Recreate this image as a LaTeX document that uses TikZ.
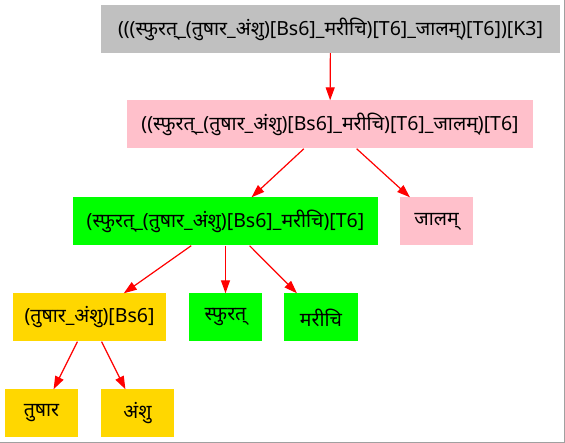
\documentclass[tikz,border=0pt]{standalone}
\usepackage{fontspec}
\newfontfamily\deva[Script=Devanagari]{Noto Sans}
\usetikzlibrary{arrows.meta}
\definecolor{cgray}{HTML}{C0C0C0}
\definecolor{cpink}{HTML}{FFC0CB}
\definecolor{cgreen}{HTML}{00FF00}
\definecolor{cgold}{HTML}{FFD700}
\definecolor{cborder}{HTML}{A0A0A0}
\begin{document}
\begin{tikzpicture}[x=1pt,y=-1pt,
  box/.style={rectangle,inner sep=0pt,minimum height=48pt,font=\deva\fontsize{19.5}{22}\selectfont,text=black},
  edge/.style={red,line width=1.2pt,-{Triangle[length=13pt,width=9pt]}}]
\useasboundingbox (0,0) rectangle (565,443);
\fill[white] (0,0) rectangle (565,443);
\draw[cborder,line width=1.2pt] (564.4,0) -- (564.4,442.4) -- (0,442.4);
\node[box,fill=cgray,minimum width=459pt] (k3) at (330.5,29) {(((स्फुरत्\_(तुषार\_अंशु)[Bs6]\_मरीचि)[T6]\_जालम्)[T6])[K3]};
\node[box,fill=cpink,minimum width=406pt] (t6a) at (330,124.5) {((स्फुरत्\_(तुषार\_अंशु)[Bs6]\_मरीचि)[T6]\_जालम्)[T6]};
\node[box,fill=cgreen,minimum width=305pt] (t6b) at (225.5,221.5) {(स्फुरत्\_(तुषार\_अंशु)[Bs6]\_मरीचि)[T6]};
\node[box,fill=cpink,minimum width=73pt] (jalam) at (436.5,221.5) {जालम्};
\node[box,fill=cgold,minimum width=153pt] (bs6) at (89.5,317.5) {(तुषार\_अंशु)[Bs6]};
\node[box,fill=cgreen,minimum width=73pt] (sphurat) at (225.5,317.5) {स्फुरत्};
\node[box,fill=cgreen,minimum width=74pt] (marichi) at (321,317.5) {मरीचि};
\node[box,fill=cgold,minimum width=73pt] (tushar) at (41.5,413.5) {तुषार};
\node[box,fill=cgold,minimum width=73pt] (amshu) at (137.5,413.5) {अंशु};
\draw[edge] (k3) -- (t6a);
\draw[edge] (t6a) -- (t6b);
\draw[edge] (t6a) -- (jalam);
\draw[edge] (t6b) -- (bs6);
\draw[edge] (t6b) -- (sphurat);
\draw[edge] (t6b) -- (marichi);
\draw[edge] (bs6) -- (tushar);
\draw[edge] (bs6) -- (amshu);
\end{tikzpicture}
\end{document}
